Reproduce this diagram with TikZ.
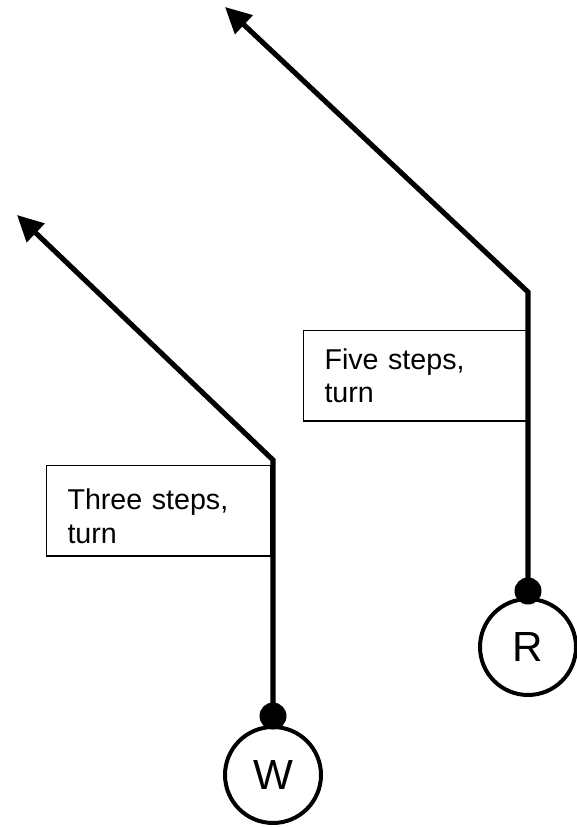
\documentclass[tikz,border=0pt]{standalone}
\usepackage{fontspec}
\setmainfont{Liberation Sans}
\usetikzlibrary{%
	arrows.meta,%
	positioning%
}

\tikzset{
	player/.style={draw,circle,line width=2.27pt,minimum size=1.92cm,inner sep=0pt,font=\fontsize{24}{28}\selectfont},
	pin/.style={fill,circle,minimum size=0.54cm,inner sep=0pt},
	stepbox/.style={draw,line width=0.6pt,align=left,text width=3.64cm,inner xsep=0.42cm,minimum height=1.81cm,font=\fontsize{16.3}{19}\selectfont},
	route/.style={line width=2.9pt,-{Triangle[length=0.52cm,width=0.5cm]}}
}

\begin{document}
\begin{tikzpicture}[x=0.02cm,y=0.02cm]
	\useasboundingbox (0,0) rectangle (577,827);
	
	% Players
	\node[player] (wpl) at (273,52) {W};
	\node[player] (rpl) at (528,180) {R};
	\node[pin] (wpin) at ([yshift=0.18cm]wpl.north) {};
	\node[pin] (rpin) at ([yshift=0.12cm]rpl.north) {};
	
	% Turning points
	\coordinate (wbend) at (273,367);
	\coordinate (wtip) at (17,612);
	\coordinate (rbend) at (528,535);
	\coordinate (rtip) at (225,820);
	
	% Notes
	\node[stepbox,text depth=12.7pt,below left=0.1cm and 0.04cm of wbend] (wnote) {Three steps,\\turn};
	\node[stepbox,below left=0.76cm and 0cm of rbend] (rnote) {Five steps,\\turn};
	
	% Routes
	\draw[route] (wpin.center) -- (wbend) -- (wtip);
	\draw[route] (rpin.center) -- (rbend) -- (rtip);
\end{tikzpicture}
\end{document}
